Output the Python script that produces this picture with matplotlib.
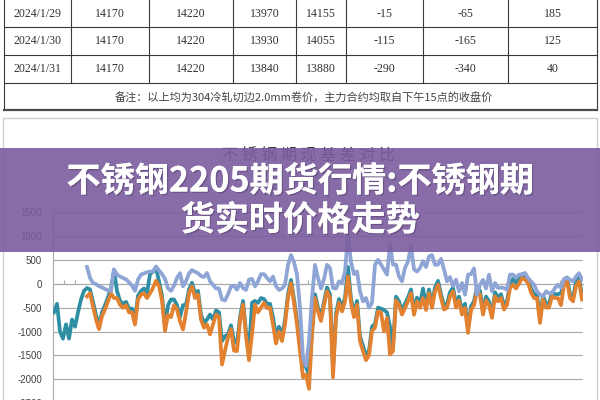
import matplotlib
matplotlib.use('Agg')
import matplotlib.pyplot as plt
import numpy as np
from matplotlib.patches import Rectangle
import matplotlib.patheffects as pe

plt.rcParams['axes.unicode_minus'] = False

# ---------------- data ----------------
table_dates = ['2024/1/29', '2024/1/30', '2024/1/31']
col_a = [14170, 14170, 14170]
col_b = [14220, 14220, 14220]
col_c = [13970, 13930, 13840]
col_d = [14155, 14055, 13880]
col_e = [-15, -115, -290]
col_f = [-65, -165, -340]
col_g = [185, 125, 40]
note_text = '备注：以上均为304冷轧切边2.0mm卷价，主力合约均取自下午15点的收盘价'

chart_title = '不 锈 钢 期 现 基 差 对 比'
banner_line1 = '不锈钢2205期货行情:不锈钢期'
banner_line2 = '货实时价格走势'

yticks = [-2500, -2000, -1500, -1000, -500, 0, 500, 1000, 1500]

teal_early = [-600, -420, -1000, -1150, -850, -1150, -750, -900, -600, -330, -150]
teal_late = [-90, -120, -380, -650, -870, -600, -450, -280, -100, 290, -150, -360, -420, -380, -520, -520,
             -760, -250, -150, -100, -200, 200, 250, 330, 50, -250, -880, -450, -330, -330, -450, -700,
             -450, -440, -120, 20, -200, -150, -650, -820, -750, -645, -750, -560, -600, -1200, -1100,
             -1060, -870, -1200, -1250, -700, -360, -1000, -1400, -400, -360, -400, -300, -320, -420, -420,
             -700, -1100, -900, -1100, -760, -220, 80, -320, -770, -1300, -1700, -1750, -1900, -980, -220,
             -500, -700, -380, -80, -220, -1800, -620, -320, -500, -290, 350, -320, -620, -360, -1100, -1300,
             -1500, -1400, -900, -840, -500, -520, -550, -600, -900, -1300, -270, -370, -560, -420, -290,
             -120, -560, -290, -420, -100, -470, -120, -420, -80, 60, -220, -460, -420, -180, -80, -420,
             -270, -560, -420, -950, -470, -370, -80, -150, -560, -270, -370, -630, -180, -290, -220, -460,
             -360, -10, 100, 20, 100, 200, 160, 90, -100, -220, -220, -740, -250, -420, -420, -180, -220,
             -220, -200, 60, 130, -220, -290, 30, 130, -250]
orange = [-265, -200, -470, -750, -950, -680, -540, -370, -200, -300, -300, -440, -505, -450, -600, -600,
          -855, -330, -230, -200, -300, -200, -90, 60, -50, -350, -990, -650, -700, -450, -540, -785,
          -960, -600, -200, -55, -300, -230, -750, -920, -850, -1060, -850, -645, -700, -1690, -1400,
          -1130, -950, -1400, -1410, -785, -440, -1100, -1600, -1060, -440, -600, -500, -400, -510, -505,
          -855, -1250, -1000, -1200, -855, -300, 10, -400, -855, -1410, -1960, -1900, -2200, -1060, -300,
          -580, -780, -450, -160, -300, -1960, -700, -400, -580, -370, 150, -400, -700, -440, -1200, -1410,
          -1600, -1500, -990, -920, -580, -600, -1000, -715, -1480, -1410, -350, -450, -645, -505, -370,
          -200, -650, -370, -505, -300, -550, -200, -505, -160, -20, -300, -540, -505, -265, -160, -500,
          -350, -645, -505, -1030, -550, -450, -160, -230, -645, -350, -450, -715, -265, -370, -300, -540,
          -440, -90, -20, -100, 0, 120, 85, 15, -180, -300, -300, -820, -330, -500, -500, -265, -300,
          -300, -450, -20, 50, -300, -370, -50, 50, -330]
blue = [350, 120, 15, -10, -50, -80, -110, -140, -150, 300, 190, 150, 120, 90, 30, -40,
        -150, 85, 190, 215, 240, 255, 255, 360, 280, 200, 100, -100, -150, -40, 120, 220,
        -55, 50, 215, 285, 250, 220, 160, 140, 225, 50, -20, -100, -100, -330, -350,
        -220, -60, -40, -125, 15, -90, -130, 85, 100, -55, 50, 200, 200, 120, 50,
        150, -50, -130, -100, -20, 395, 600, 450, 190, -505, -1550, -1720, -1200, -300, 395,
        120, -100, 100, 395, 330, -90, -100, 50, 15, 255, 1020, 450, 200, 255, -160, -370,
        -300, -500, -400, 395, 500, 400, 300, 190, 810, 400, 400, 150, 50, 330, 470,
        780, 300, 255, 330, 470, 350, 570, 600, 395, 400, 520, 300, 50, 140, -50, 85,
        -160, 15, -230, 190, 200, 320, -230, -20, 80, -100, 190, -160, 15, -90, -80, -90,
        -125, 190, 190, 130, 190, 190, 225, 120, 50, -20, -160, -230, -265, -160, -200, -195, -90,
        -20, -90, 100, 120, 85, 50, 150, 220, 85]

teal = teal_early + teal_late
late_start = len(teal_early)

# ---------------- figure ----------------
fig = plt.figure(figsize=(6, 4), dpi=100)
fig.patch.set_facecolor('white')

bg = fig.add_axes([0, 0, 1, 1], zorder=0)
bg.set_xlim(0, 600)
bg.set_ylim(400, 0)
bg.axis('off')

# table grid
tcol = '#3a3a3a'
col_edges = [4, 71, 149, 233, 296, 346, 423, 508, 597]
row_edges = [0, 27, 55, 83]
for yy in row_edges[1:]:
    bg.plot([col_edges[0], col_edges[-1]], [yy, yy], color=tcol, lw=0.8)
for xx in col_edges[1:-1]:
    bg.plot([xx, xx], [0, 83], color=tcol, lw=0.8)
for xx in (col_edges[0], col_edges[-1]):
    bg.plot([xx, xx], [0, 110], color=tcol, lw=0.8)
bg.plot([col_edges[0], col_edges[-1]], [110, 110], color='#4a4a4a', lw=1.6)

rows = list(zip(table_dates, col_a, col_b, col_c, col_d, col_e, col_f, col_g))
tfont = dict(family=['Liberation Serif', 'DejaVu Serif'], fontsize=8.6, color='#333333')
for r, row in enumerate(rows):
    yc = (row_edges[r] + row_edges[r + 1]) / 2 + 0.5
    for c, val in enumerate(row):
        xc = (col_edges[c] + col_edges[c + 1]) / 2
        bg.text(xc, yc, str(val), ha='center', va='center', **tfont)
bg.text(304, 97.5, note_text, ha='center', va='center', fontsize=8.0,
        family=['Noto Sans CJK SC', 'DejaVu Sans'], color='#444444')

# chart panel
bg.add_patch(Rectangle((3, 118), 594, 320, facecolor='white', edgecolor='#CFCFCF', lw=1))
bg.text(309, 156, chart_title, ha='center', va='center', fontsize=11.5,
        family=['Noto Sans CJK SC', 'DejaVu Sans'], color='#3a3a3a')

# chart axes
ax = fig.add_axes([53 / 600, -3.2 / 400, 530 / 600, 191.2 / 400], zorder=1)
ax.patch.set_alpha(0)
n_total = len(teal)
x_all = np.arange(n_total)
x_late = late_start + np.arange(len(orange))
x_blue = late_start + np.arange(len(blue))

lw = 2.7
ax.plot(x_all, teal, color='#2E8FA4', lw=lw, solid_joinstyle='round', zorder=3)
ax.plot(x_late, orange, color='#E2812F', lw=lw, solid_joinstyle='round', zorder=4)
ax.plot(x_blue, blue, color='#8EA5D5', lw=lw, solid_joinstyle='round', zorder=5)

ax.set_xlim(-1 / 3, 176.33)
ax.set_ylim(-2500, 1500)
ax.set_yticks(yticks)
ax.set_yticklabels([str(v) for v in yticks], family=['Liberation Sans', 'DejaVu Sans'],
                   fontsize=7, color='#404040')
ax.tick_params(axis='y', length=0, pad=8)
ax.yaxis.grid(True, color='#A9A9A9', lw=0.8)
ax.set_axisbelow(True)
for s in ('top', 'right'):
    ax.spines[s].set_visible(False)
ax.spines['left'].set_color('#A9A9A9')
ax.spines['left'].set_linewidth(0.8)
ax.spines['bottom'].set_position(('data', 0))
ax.spines['bottom'].set_color('#A9A9A9')
ax.spines['bottom'].set_linewidth(0.8)
ax.set_xticks([3.3, 7, 84.7, 168.7])
ax.set_xticklabels([])
ax.tick_params(axis='x', length=3, direction='in', color='#A9A9A9', width=0.8)

# banner overlay
top = fig.add_axes([0, 0, 1, 1], zorder=3)
top.set_xlim(0, 600)
top.set_ylim(400, 0)
top.axis('off')
top.add_patch(Rectangle((0, 148), 600, 104, facecolor='#7B5C9E', edgecolor='none', alpha=0.9))
shadow = [pe.withSimplePatchShadow(offset=(1, -1), shadow_rgbFace='#3a2a50', alpha=0.35), pe.Normal()]
for txt, yy in ((banner_line1, 181), (banner_line2, 220)):
    top.text(300, yy, txt, ha='center', va='center', fontsize=24.6, fontweight='bold',
             family=['Noto Sans CJK SC', 'DejaVu Sans'], color='white', path_effects=shadow)

fig.savefig('out.png', dpi=100, facecolor='white')
